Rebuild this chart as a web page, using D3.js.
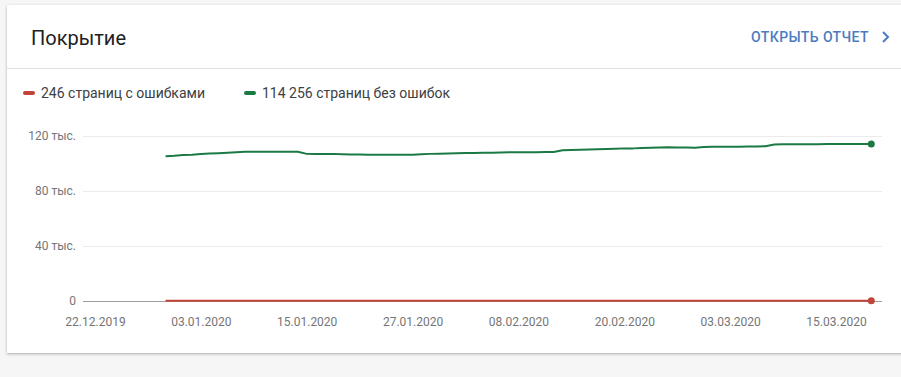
<!DOCTYPE html>
<html>
<head>
<meta charset="utf-8">
<script src="https://cdn.jsdelivr.net/npm/d3@7"></script>
<style>
  body { margin: 0; background: #f6f6f6; font-family: Roboto, "Noto Sans", sans-serif; }
  svg { display: block; }
  .tick text { fill: #757575; font-size: 12px; font-family: Roboto, sans-serif; }
</style>
</head>
<body>
<svg width="901" height="377"></svg>
<script>
const title = 'Покрытие';
const linkLabel = 'ОТКРЫТЬ ОТЧЕТ';
const seriesNames = ['246 страниц с ошибками', '114 256 страниц без ошибок'];
const seriesColors = ['#c0443a', '#1b7a44'];

// one point per day, 30.12.2019 .. 19.03.2020
const firstDay = new Date(2019, 11, 30);
const lastDay = new Date(2020, 2, 19);

const validPages = [
  105200, 105600, 106200, 106300, 106900, 107200, 107500, 107800, 108200, 108500,
  108600, 108600, 108600, 108600, 108600, 108600, 107000, 106900, 106900, 107000,
  106800, 106600, 106500, 106400, 106400, 106300, 106300, 106300, 106400, 106800,
  107000, 107100, 107300, 107500, 107600, 107700, 107800, 107900, 108000, 108100,
  108100, 108200, 108200, 108300, 108400, 109600, 109800, 110000, 110200, 110400,
  110600, 110800, 111000, 111000, 111200, 111400, 111600, 111800, 111700, 111600,
  111500, 112000, 112100, 112100, 112200, 112200, 112300, 112400, 112600, 113800,
  114000, 114000, 114000, 114000, 114000, 114100, 114100, 114200, 114200, 114200,
  114256
];
const errorPages = [
  240, 240, 241, 241, 242, 242, 242, 243, 243, 243,
  243, 243, 243, 243, 244, 244, 244, 244, 244, 244,
  244, 244, 244, 244, 244, 245, 245, 245, 245, 245,
  245, 245, 245, 245, 245, 245, 245, 245, 245, 245,
  245, 245, 245, 245, 245, 245, 245, 245, 245, 245,
  246, 246, 246, 246, 246, 246, 246, 246, 246, 246,
  246, 246, 246, 246, 246, 246, 246, 246, 246, 246,
  246, 246, 246, 246, 246, 246, 246, 246, 246, 246,
  246
];

const yTicks = [0, 40000, 80000, 120000];
const yTickLabels = ['0', '40 тыс.', '80 тыс.', '120 тыс.'];
const xTickStrings = ['22.12.2019', '03.01.2020', '15.01.2020', '27.01.2020',
  '08.02.2020', '20.02.2020', '03.03.2020', '15.03.2020'];

const parseDay = d3.timeParse('%d.%m.%Y');
const fmtDay = d3.timeFormat('%d.%m.%Y');
const days = d3.timeDay.range(firstDay, d3.timeDay.offset(lastDay, 1));
const xTicks = xTickStrings.map(parseDay);

const svg = d3.select('svg');

// card
const defs = svg.append('defs');
const f = defs.append('filter').attr('id', 'shadow')
  .attr('x', '-5%').attr('y', '-5%').attr('width', '110%').attr('height', '115%');
f.append('feDropShadow').attr('dx', 0).attr('dy', 1).attr('stdDeviation', 1.5)
  .attr('flood-color', '#000').attr('flood-opacity', 0.3);

svg.append('rect')
  .attr('x', 7).attr('y', 5).attr('width', 905).attr('height', 348)
  .attr('fill', '#fff').attr('filter', 'url(#shadow)');

svg.append('text')
  .attr('x', 31).attr('y', 45)
  .attr('font-size', 20).attr('fill', '#202124')
  .text(title);

svg.append('text')
  .attr('x', 869).attr('y', 42)
  .attr('text-anchor', 'end')
  .attr('font-size', 14).attr('font-weight', 500)
  .attr('letter-spacing', 0.4)
  .attr('fill', '#4b7cc0')
  .text(linkLabel);

svg.append('path')
  .attr('d', 'M883,32 L888,37 L883,42')
  .attr('fill', 'none').attr('stroke', '#4b7cc0').attr('stroke-width', 2);

svg.append('line')
  .attr('x1', 7).attr('x2', 901).attr('y1', 68.5).attr('y2', 68.5)
  .attr('stroke', '#e0e0e0');

// legend
const legendX = [23, 244];
const legend = svg.selectAll('.legend').data(seriesNames)
  .join('g').attr('class', 'legend')
  .attr('transform', (d, i) => `translate(${legendX[i]},93)`);
legend.append('line')
  .attr('x1', 2).attr('x2', 10)
  .attr('stroke', (d, i) => seriesColors[i])
  .attr('stroke-width', 4).attr('stroke-linecap', 'round');
legend.append('text')
  .attr('x', 18).attr('y', 5)
  .attr('font-size', 14).attr('fill', '#3c4043')
  .text(d => d);

// scales
const plotLeft = 83, plotRight = 882;
const xScale = d3.scaleTime()
  .domain([xTicks[0], xTicks[xTicks.length - 1]])
  .range([95, 836]);
const yScale = d3.scaleLinear()
  .domain([0, 120000])
  .range([301, 136]);

// grid
svg.append('g').selectAll('line').data(yTicks)
  .join('line')
  .attr('x1', plotLeft).attr('x2', plotRight)
  .attr('y1', d => Math.round(yScale(d)) + 0.5)
  .attr('y2', d => Math.round(yScale(d)) + 0.5)
  .attr('stroke', d => d === 0 ? '#9e9e9e' : '#ebebeb');

const yAxis = d3.axisLeft(yScale)
  .tickValues(yTicks)
  .tickSize(0)
  .tickPadding(7)
  .tickFormat((d, i) => yTickLabels[i]);
svg.append('g')
  .attr('transform', `translate(${plotLeft},0)`)
  .call(yAxis)
  .call(g => g.select('.domain').remove());

const xAxis = d3.axisBottom(xScale)
  .tickValues(xTicks)
  .tickSize(0)
  .tickPadding(16)
  .tickFormat(fmtDay);
svg.append('g')
  .attr('transform', 'translate(0,301)')
  .call(xAxis)
  .call(g => g.select('.domain').remove());

// lines
const series = [errorPages, validPages];
const line = d3.line()
  .x((d, i) => xScale(days[i]))
  .y(d => yScale(d));

series.forEach((vals, k) => {
  svg.append('path')
    .datum(vals)
    .attr('fill', 'none')
    .attr('stroke', seriesColors[k])
    .attr('stroke-width', 2)
    .attr('stroke-linejoin', 'round')
    .attr('d', line);
  const last = vals.length - 1;
  svg.append('circle')
    .attr('cx', xScale(days[last]))
    .attr('cy', yScale(vals[last]))
    .attr('r', 3.5)
    .attr('fill', seriesColors[k]);
});
</script>
</body>
</html>
